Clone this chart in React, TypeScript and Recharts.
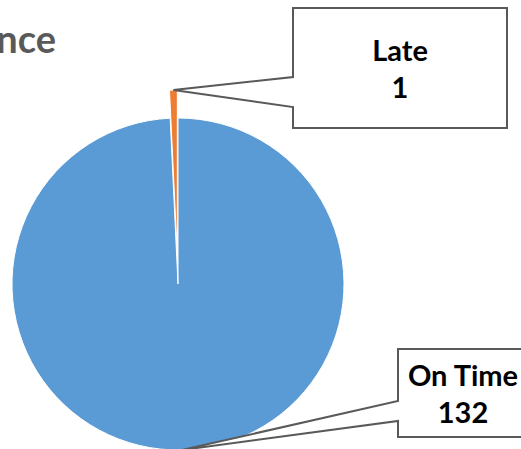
import { Cell, Pie, PieChart } from "recharts"

const CATEGORIES = ["On Time", "Late"]
const VALUES = [132, 1]
const COLORS = [
  "#5B9BD5", // blue
  "#ED7D31", // orange
]
const EXPLODED = ["Late"]

const TITLE = "Performance"

const data = CATEGORIES.map((name, i) => ({ name, value: VALUES[i] }))

const RADIAN = Math.PI / 180
const CX = 178
const CY = 284
const RADIUS = 166
const EXPLODE = 28
const START = 90
const END = -270

// mid angle of the exploded slice, from the data
const total = VALUES.reduce((a, b) => a + b, 0)
const lateIdx = CATEGORIES.indexOf(EXPLODED[0])
const before = VALUES.slice(0, lateIdx).reduce((a, b) => a + b, 0)
const lateMid = START - (360 * (before + VALUES[lateIdx] / 2)) / total
const EX_CX = CX + EXPLODE * Math.cos(lateMid * RADIAN)
const EX_CY = CY - EXPLODE * Math.sin(lateMid * RADIAN)

// callout boxes (x, y, w, h, notch top, notch bottom)
const CALLOUTS: Record<string, { x: number; y: number; w: number; h: number; n1: number; n2: number }> = {
  Late: { x: 293, y: 8, w: 214, h: 120, n1: 77, n2: 107 },
  "On Time": { x: 398, y: 349, w: 130, h: 88, n1: 401, n2: 421 },
}

const FONT = "Lato, 'Open Sans', sans-serif"

function makeLabel(show: string[]) {
  return (props: any) => {
    const { cx, cy, midAngle, outerRadius, name, value } = props
    if (!show.includes(name)) return null
    const box = CALLOUTS[name]
    const tx = cx + outerRadius * Math.cos(-midAngle * RADIAN)
    const ty = cy + outerRadius * Math.sin(-midAngle * RADIAN)
    const d = `M${box.x},${box.y} H${box.x + box.w} V${box.y + box.h} H${box.x} V${box.n2} L${tx},${ty} L${box.x},${box.n1} Z`
    const mx = box.x + box.w / 2
    const my = box.y + box.h / 2
    return (
      <g>
        <path d={d} fill="#fff" stroke="#595959" strokeWidth={2} strokeLinejoin="miter" />
        <text x={mx} y={my - 7} textAnchor="middle" fontFamily={FONT} fontWeight={700} fontSize={29} fill="#000">
          {name}
        </text>
        <text x={mx} y={my + 30} textAnchor="middle" fontFamily={FONT} fontWeight={700} fontSize={29} fill="#000">
          {value}
        </text>
      </g>
    )
  }
}

export default function App() {
  return (
    <div style={{ position: "absolute", left: 0, top: 0, width: 521, height: 449, overflow: "hidden", background: "#fff" }}>
      <PieChart width={521} height={449} margin={{ top: 0, right: 0, bottom: 0, left: 0 }}>
        <text x={56} y={53} textAnchor="end" fontFamily={FONT} fontWeight={700} fontSize={38} fill="#595959">
          {TITLE}
        </text>
        <Pie
          data={data}
          dataKey="value"
          nameKey="name"
          cx={CX}
          cy={CY}
          outerRadius={RADIUS}
          startAngle={START}
          endAngle={END}
          isAnimationActive={false}
          labelLine={false}
          label={makeLabel(CATEGORIES.filter((c) => !EXPLODED.includes(c)))}
        >
          {data.map((entry, index) =>
            EXPLODED.includes(entry.name) ? (
              <Cell key={`cell-${index}`} fill="none" stroke="none" />
            ) : (
              <Cell key={`cell-${index}`} fill={COLORS[index]} stroke="#fff" strokeWidth={1} />
            )
          )}
        </Pie>
        <Pie
          data={data}
          dataKey="value"
          nameKey="name"
          cx={EX_CX}
          cy={EX_CY}
          outerRadius={RADIUS}
          startAngle={START}
          endAngle={END}
          isAnimationActive={false}
          labelLine={false}
          label={makeLabel(EXPLODED)}
        >
          {data.map((entry, index) =>
            EXPLODED.includes(entry.name) ? (
              <Cell key={`ex-${index}`} fill={COLORS[index]} stroke="#fff" strokeWidth={1} />
            ) : (
              <Cell key={`ex-${index}`} fill="none" stroke="none" />
            )
          )}
        </Pie>
      </PieChart>
    </div>
  )
}
